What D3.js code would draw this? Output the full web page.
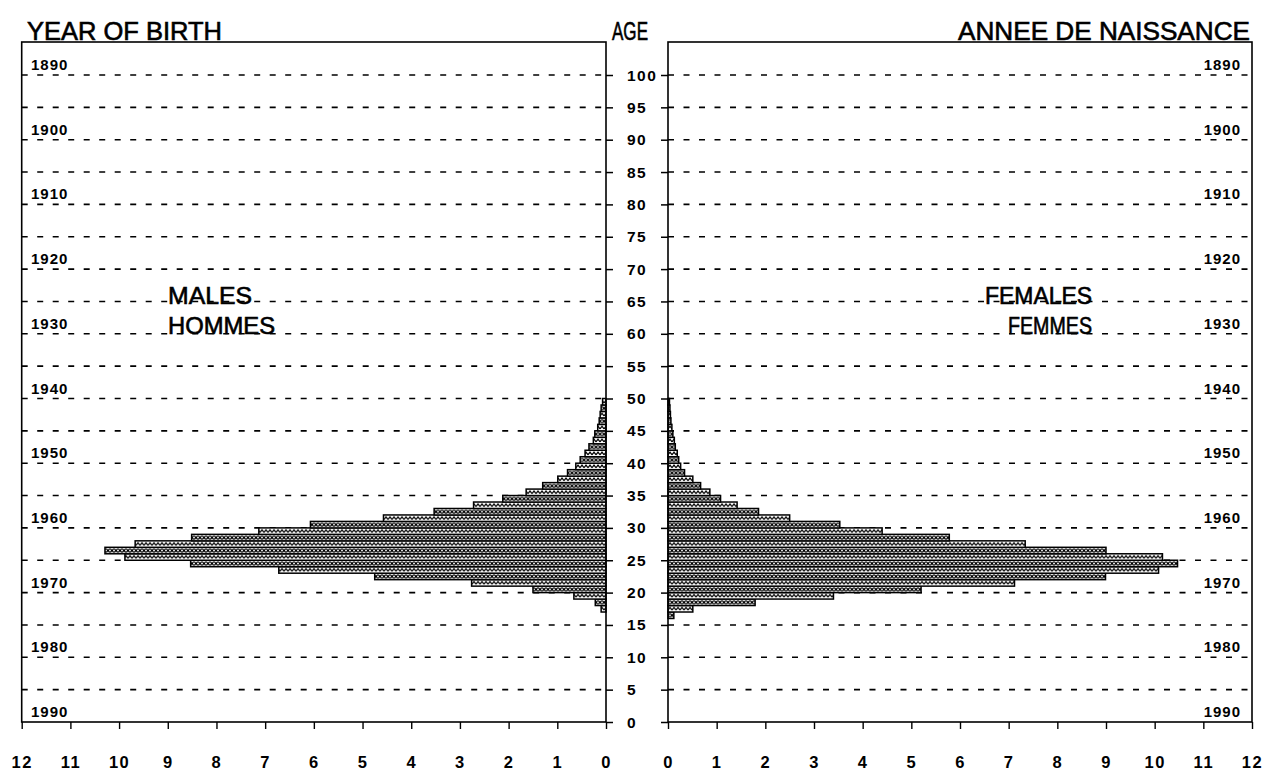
<!DOCTYPE html>
<html><head><meta charset="utf-8">
<script src="https://cdn.jsdelivr.net/npm/d3@7"></script>
<style>
html,body{margin:0;padding:0;background:#fff;}
svg{display:block;font-family:"Liberation Sans",Arial,Helvetica,sans-serif;}
</style></head>
<body><svg id="c" width="1276" height="771"></svg>
<script>
// ---- data ----
const maleAges   = [17,18,19,20,21,22,23,24,25,26,27,28,29,30,31,32,33,34,35,36,37,38,39,40,41,42,43,44,45,46,47,48,49];
const maleValues = [0.10,0.22,0.66,1.50,2.76,4.75,6.72,8.53,9.88,10.29,9.67,8.51,7.13,6.07,4.57,3.53,2.72,2.12,1.64,1.30,0.99,0.79,0.62,0.53,0.43,0.35,0.26,0.23,0.17,0.14,0.12,0.10,0.07];
const femaleAges   = [16,17,18,19,20,21,22,23,24,25,26,27,28,29,30,31,32,33,34,35,36,37,38,39,40,41,42,43,44,45,46,47,48,49];
const femaleValues = [0.12,0.51,1.79,3.40,5.20,7.12,8.99,10.08,10.47,10.16,9.00,7.34,5.78,4.40,3.53,2.50,1.86,1.42,1.08,0.86,0.67,0.51,0.34,0.26,0.22,0.19,0.15,0.13,0.10,0.08,0.06,0.05,0.04,0.03];
const ageTicks  = [0,5,10,15,20,25,30,35,40,45,50,55,60,65,70,75,80,85,90,95,100];
const gridAges  = [5,10,15,20,25,30,35,40,45,50,55,60,65,70,75,80,85,90,95,100];
const yearLabels = ["1890","1900","1910","1920","1930","1940","1950","1960","1970","1980","1990"];
const yearAges   = [100,90,80,70,60,50,40,30,20,10,0];
const xTicks = [0,1,2,3,4,5,6,7,8,9,10,11,12];

// ---- layout ----
const svg = d3.select("#c");
const y  = d3.scaleLinear().domain([0,100]).range([722,75]);
const xL = d3.scaleLinear().domain([0,12]).range([606,21.7]);
const xR = d3.scaleLinear().domain([0,12]).range([668,1252]);
const frameTop = 42;
const bh = y(0) - y(1);

// patterns
const defs = svg.append("defs");
const pw = defs.append("pattern").attr("id","wave").attr("patternUnits","userSpaceOnUse")
  .attr("width",4).attr("height",bh).attr("y",y(0));
pw.append("rect").attr("width",4).attr("height",bh).attr("fill","#fff");
pw.append("path").attr("d",`M0,${bh*0.7} L2,${bh*0.3} L4,${bh*0.7}`)
  .attr("fill","none").attr("stroke","#000").attr("stroke-width",1.3);
const pd = defs.append("pattern").attr("id","dots").attr("patternUnits","userSpaceOnUse")
  .attr("width",4).attr("height",bh).attr("y",y(0));
pd.append("rect").attr("width",4).attr("height",bh).attr("fill","#fff");
pd.append("circle").attr("cx",2).attr("cy",bh/2).attr("r",1.5)
  .attr("fill","none").attr("stroke","#000").attr("stroke-width",1.1);

// dashed grid
function grid(x0,x1){
  svg.append("g").selectAll("line").data(gridAges).join("line")
    .attr("x1",x0).attr("x2",x1).attr("y1",d=>y(d)).attr("y2",d=>y(d))
    .attr("stroke","#000").attr("stroke-width",1.6).attr("stroke-dasharray","6,9.5");
}
grid(xL(12),xL(0));
grid(xR(0),xR(12));

// bars
svg.append("g").selectAll("rect").data(maleAges).join("rect")
  .attr("x",(d,i)=>xL(maleValues[i])).attr("width",(d,i)=>xL(0)-xL(maleValues[i]))
  .attr("y",d=>y(d+1)).attr("height",bh)
  .attr("fill",d=>d%2? "url(#wave)":"url(#dots)")
  .attr("stroke","#000").attr("stroke-width",1.5);
svg.append("g").selectAll("rect").data(femaleAges).join("rect")
  .attr("x",xR(0)).attr("width",(d,i)=>xR(femaleValues[i])-xR(0))
  .attr("y",d=>y(d+1)).attr("height",bh)
  .attr("fill",d=>d%2? "url(#wave)":"url(#dots)")
  .attr("stroke","#000").attr("stroke-width",1.5);

// frames
function frame(x0,x1){
  svg.append("rect").attr("x",x0).attr("y",frameTop).attr("width",x1-x0).attr("height",y(0)-frameTop)
    .attr("fill","none").attr("stroke","#000").attr("stroke-width",1.6);
}
frame(xL(12),xL(0));
frame(xR(0),xR(12));

// age axis ticks
svg.append("g").attr("transform",`translate(${xL(0)},0)`)
  .call(d3.axisRight(y).tickValues(ageTicks).tickSize(7).tickFormat(""))
  .call(g=>g.select(".domain").remove())
  .selectAll("line").attr("stroke-width",1.5);
svg.append("g").attr("transform",`translate(${xR(0)},0)`)
  .call(d3.axisLeft(y).tickValues(ageTicks).tickSize(7).tickFormat(""))
  .call(g=>g.select(".domain").remove())
  .selectAll("line").attr("stroke-width",1.5);
svg.append("g").selectAll("text").data(ageTicks).join("text")
  .attr("x",627).attr("y",d=>y(d)+5.5).text(d=>d)
  .attr("font-size",15.5).attr("font-weight","bold").attr("letter-spacing",1.5).attr("fill","#000");

// bottom x axes
const gxl = svg.append("g").attr("transform",`translate(0,${y(0)})`)
  .call(d3.axisBottom(xL).tickValues(xTicks).tickSize(7).tickPadding(27).tickFormat(d3.format("d")));
const gxr = svg.append("g").attr("transform",`translate(0,${y(0)})`)
  .call(d3.axisBottom(xR).tickValues(xTicks).tickSize(7).tickPadding(27).tickFormat(d3.format("d")));
[gxl,gxr].forEach(g=>{
  g.select(".domain").remove();
  g.selectAll("line").attr("stroke","#000").attr("stroke-width",1.4);
  g.selectAll("text").attr("font-size",16.5).attr("font-weight","bold").attr("fill","#000")
    .attr("letter-spacing",1.5)
    .attr("font-family","'Liberation Sans',Arial,sans-serif");
});

// year labels
svg.append("g").selectAll("text").data(yearLabels).join("text")
  .attr("x",31).attr("y",(d,i)=>y(yearAges[i])-5).text(d=>d)
  .attr("font-size",15).attr("font-weight","bold").attr("letter-spacing",1).attr("fill","#000");
svg.append("g").selectAll("text").data(yearLabels).join("text")
  .attr("x",1241).attr("text-anchor","end").attr("y",(d,i)=>y(yearAges[i])-5).text(d=>d)
  .attr("font-size",15).attr("font-weight","bold").attr("letter-spacing",1).attr("fill","#000");

// titles
function label(t,x,yy,size,len,anchor){
  svg.append("text").attr("x",x).attr("y",yy).text(t).attr("font-size",size)
    .attr("text-anchor",anchor||"start").attr("fill","#000")
    .attr("stroke","#000").attr("stroke-width",0.6)
    .attr("textLength",len).attr("lengthAdjust","spacingAndGlyphs");
}
label("YEAR OF BIRTH",27,40,25,195);
label("AGE",612,40,25,36);
label("ANNEE DE NAISSANCE",958,40,25,292);
label("MALES",168,304,23,84);
label("HOMMES",168,334,23,107);
label("FEMALES",985,304,23,107);
label("FEMMES",1008,334,23,84);
</script></body></html>
